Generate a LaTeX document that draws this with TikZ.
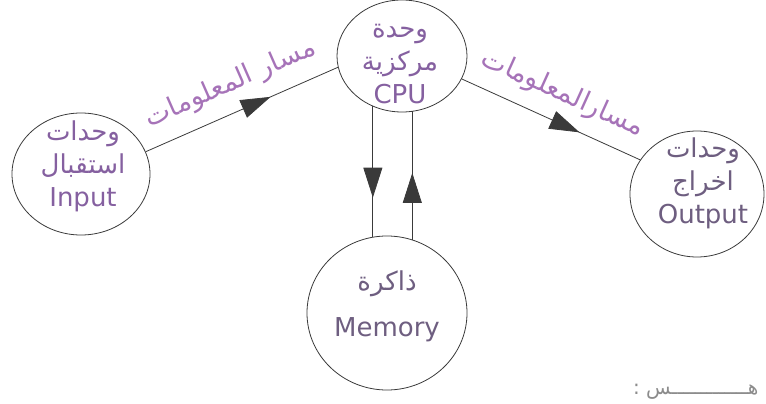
\documentclass[tikz,border=0pt]{standalone}
\usepackage{fontspec}
\setmainfont{DejaVu Sans}
\newfontfamily\arabicfont[Script=Arabic]{DejaVu Sans}
\TeXXeTstate=1
\usepackage{xcolor}
\usepackage{tikz}
\usetikzlibrary{arrows.meta,positioning,calc,shapes.geometric,decorations.markings}
\definecolor{ink}{HTML}{8560A0}
\definecolor{inkg}{HTML}{6E5E80}
\definecolor{lb}{HTML}{A673B8}
\definecolor{ln}{HTML}{3A3A3A}
\definecolor{nt}{HTML}{8C8C8C}
\newcommand{\Ar}[1]{{\arabicfont\beginR #1\endR}}
\tikzset{
  unit/.style={ellipse, draw=ln, line width=0.8pt, inner sep=0pt},
  unittxt/.style={align=center, text=ink, font=\fontsize{26}{33}\selectfont},
  link/.style={draw=ln, line width=0.8pt},
  pathlbl/.style={sloped, above=14pt, text=lb, font=\fontsize{27}{30}\selectfont, inner sep=0pt},
  midarrow/.style={postaction={decorate, decoration={markings,
    mark=at position #1 with {\arrow{Triangle[length=30pt,width=19pt]}}}}}
}

\begin{document}
\begin{tikzpicture}[x=1pt, y=-1pt]
  \useasboundingbox (0,0) rectangle (766,404);
  % the four units
  \node[unit, minimum width=138pt, minimum height=122pt] (in) at (81,174) {};
  \node[unit, minimum width=130pt, minimum height=112pt] (cpu) at (402,56) {};
  \node[unit, minimum width=134pt, minimum height=126pt] (out) at (697,194) {};
  \node[unit, minimum width=160pt, minimum height=154pt] (mem) at (387,313) {};
  % what is written in them
  \node[unittxt] (in-t) at (83,166) {\Ar{وحدات}\\\Ar{استقبال}\\Input};
  \node[unittxt] (cpu-t) at (400,64) {\Ar{وحدة}\\\Ar{مركزية}\\CPU};
  \node[unittxt, text=inkg] (out-t) at (703,183) {\Ar{وحدات}\\\Ar{اخراج}\\Output};
  \node[unittxt, text=inkg, font=\fontsize{26}{46}\selectfont] (mem-t) at (387,306) {\Ar{ذاكرة}\\Memory};
  % data paths
  \draw[link, midarrow=0.65] (in.19) -- node[pathlbl, pos=0.5] (path-in) {\Ar{مسار المعلومات}} (cpu.190);
  \draw[link, midarrow=0.66] (cpu.-21) -- node[pathlbl, pos=0.5] (path-out) {\Ar{مسارالمعلومات}} (out.149);
  \draw[link, midarrow=0.70] (cpu.-120) -- (cpu.-120 |- mem.100);
  \draw[link, midarrow=0.52] (mem.71) -- (mem.71 |- cpu.-78);
  \node[anchor=east, text=nt, font=\fontsize{20}{22}\selectfont] (note) at (762,392) {\Ar{هـــــــــــــس :}};
\end{tikzpicture}
\end{document}
